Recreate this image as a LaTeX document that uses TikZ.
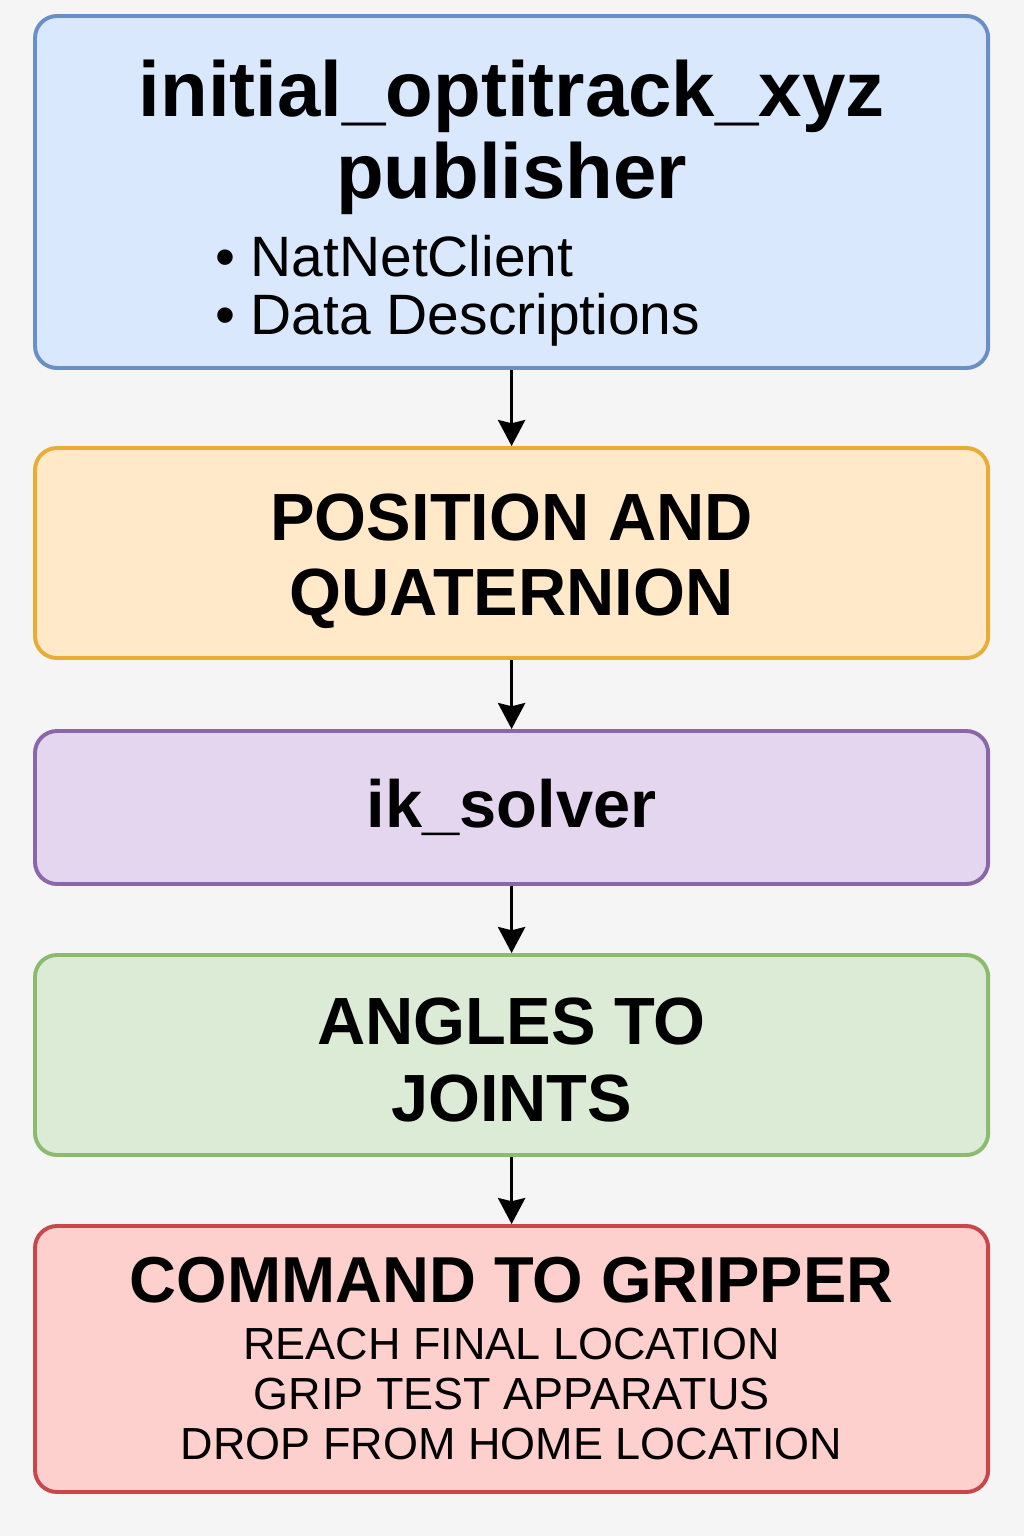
\documentclass[tikz,border=0pt]{standalone}
\usepackage{fontspec}
\setmainfont{Liberation Sans}
\usetikzlibrary{positioning,arrows.meta}
\definecolor{bgcol}{HTML}{F5F5F5}
\definecolor{blueFill}{HTML}{DAE8FD}
\definecolor{blueLine}{HTML}{6A8FC7}
\definecolor{orangeFill}{HTML}{FFE9C9}
\definecolor{orangeLine}{HTML}{E8AD36}
\definecolor{purpleFill}{HTML}{E4D6EE}
\definecolor{purpleLine}{HTML}{8B66A8}
\definecolor{greenFill}{HTML}{DBEBD5}
\definecolor{greenLine}{HTML}{8CBB6E}
\definecolor{redFill}{HTML}{FDD0CE}
\definecolor{redLine}{HTML}{C9474B}
\newcommand{\titlefont}{\fontsize{55.5pt}{58.3pt}\selectfont\bfseries}
\newcommand{\listfont}{\fontsize{40.5pt}{41.3pt}\selectfont\mdseries}
\newcommand{\headfont}{\fontsize{47.5pt}{53.5pt}\selectfont\bfseries}
\newcommand{\cmdfont}{\fontsize{46.2pt}{50pt}\selectfont\bfseries}
\newcommand{\stepfont}{\fontsize{32pt}{35.6pt}\selectfont}
\tikzstyle{block} = [rectangle, draw, rounded corners=0.55cm, line width=2.8pt,
    minimum width=23.83cm, align=center, inner sep=0pt]
\tikzstyle{line} = [draw, line width=2.2pt, -{Stealth[length=0.65cm,width=0.68cm,inset=0.08cm]}]

\begin{document}
\begin{tikzpicture}
    \fill[bgcol] (0,0) rectangle (25.6,-38.4);
    \useasboundingbox (0,0) rectangle (25.6,-38.4);
    % Place nodes
    \node [block, fill=blueFill, draw=blueLine, minimum height=8.8cm, font=\titlefont] (publisher) at (12.79,-4.8)
        {\rule{0pt}{1.95cm}initial\_optitrack\_xyz\\ publisher\\[-2.8pt]
         \listfont\makebox[14.83cm][l]{\textbullet\ NatNetClient}\\[-17pt]
         \listfont\makebox[14.83cm][l]{\textbullet\ Data Descriptions}};
    \node [block, fill=orangeFill, draw=orangeLine, minimum height=5.25cm, font=\headfont,
        below of=publisher, node distance=9.025cm] (pose) {\rule{0pt}{45pt}POSITION AND\\ QUATERNION};
    \node [block, fill=purpleFill, draw=purpleLine, minimum height=3.825cm, font=\headfont,
        below of=pose, node distance=6.3625cm] (solver) {ik\_solver};
    \node [block, fill=greenFill, draw=greenLine, minimum height=5cm, font=\headfont,
        below of=solver, node distance=6.1875cm] (angles) {\rule{0pt}{40pt}ANGLES TO\\[1.4pt] JOINTS};
    \node [block, fill=redFill, draw=redLine, minimum height=6.65cm, font=\stepfont,
        below of=angles, node distance=7.6cm] (gripper)
        {\cmdfont COMMAND TO GRIPPER\\[4.9pt] REACH FINAL LOCATION\\
         GRIP TEST APPARATUS\\ DROP FROM HOME LOCATION};

    % Draw edges
    \path [line] (publisher) -- (pose);
    \path [line] (pose) -- (solver);
    \path [line] (solver) -- (angles);
    \path [line] (angles) -- (gripper);
\end{tikzpicture}
\end{document}
